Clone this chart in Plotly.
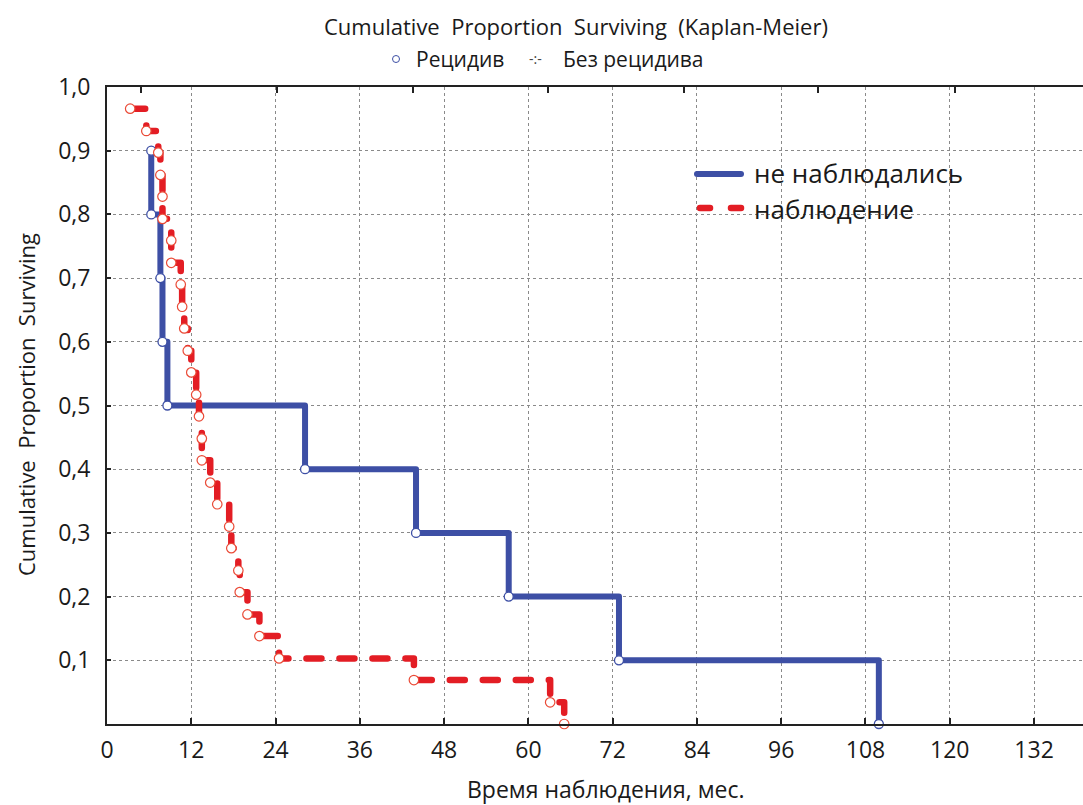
import plotly.graph_objects as go

W, H = 1083, 805
L, R, T, B = 107, 0, 87, 81

# Kaplan-Meier curves: event times (months) and cumulative proportion surviving
no_obs_time = [6.3, 6.3, 7.6, 7.9, 8.6, 28.2, 44.0, 57.2, 72.9, 109.9]
no_obs_surv = [0.9, 0.8, 0.7, 0.6, 0.5, 0.4, 0.3, 0.2, 0.1, 0.0]

obs_time = [3.3, 5.6, 7.3, 7.6, 7.9, 7.9, 9.15, 9.15, 10.5, 10.7, 11.0, 11.5,
            12.0, 12.7, 13.1, 13.5, 13.5, 14.7, 15.7, 17.4, 17.7, 18.7, 18.9,
            20.0, 21.7, 24.5, 43.7, 63.1, 65.1]
obs_surv = [0.966, 0.931, 0.897, 0.862, 0.828, 0.793, 0.759, 0.724, 0.690,
            0.655, 0.621, 0.586, 0.552, 0.517, 0.483, 0.448, 0.414, 0.379,
            0.345, 0.310, 0.276, 0.241, 0.207, 0.172, 0.138, 0.103, 0.069,
            0.034, 0.0]

x_ticks = [0, 12, 24, 36, 48, 60, 72, 84, 96, 108, 120, 132]
y_ticks = [0.1, 0.2, 0.3, 0.4, 0.5, 0.6, 0.7, 0.8, 0.9, 1.0]
y_ticktext = ["0,1", "0,2", "0,3", "0,4", "0,5", "0,6", "0,7", "0,8", "0,9", "1,0"]
top_ticks = [4.9, 24.2, 43.5, 62.8, 82.1, 101.3, 120.7]

series_names = ["не наблюдались", "наблюдение"]

BLUE = "#3d4fa5"
RED = "#e31d24"
RED_EDGE = "#ea4a36"
FONT = "Open Sans"

X_MAX = 138.97

pw, ph = W - L - R, H - T - B


def px(x):
    return (x - L) / pw


def py(y):
    return (H - B - y) / ph


fig = go.Figure()

fig.add_trace(go.Scatter(
    x=no_obs_time, y=no_obs_surv, mode="lines+markers", line_shape="hv",
    line=dict(color=BLUE, width=6),
    marker=dict(symbol="circle", size=9, color="white",
                line=dict(color=BLUE, width=1.3)),
    name=series_names[0], showlegend=False, cliponaxis=False,
))

fig.add_trace(go.Scatter(
    x=obs_time, y=obs_surv, mode="lines+markers", line_shape="hv",
    line=dict(color=RED, width=6.5, dash="15px,18px"),
    marker=dict(symbol="circle", size=9.5, color="white",
                line=dict(color=RED_EDGE, width=1.2)),
    name=series_names[1], showlegend=False, cliponaxis=False,
))

# invisible trace that carries the top axis
fig.add_trace(go.Scatter(x=[0], y=[0], xaxis="x2", mode="markers",
                         marker=dict(opacity=0), showlegend=False,
                         hoverinfo="skip"))

grid = dict(showgrid=True, gridcolor="#8a8a8a", gridwidth=1, griddash="3px,3px")

fig.update_layout(
    width=W, height=H, autosize=False,
    margin=dict(l=L, r=R, t=T, b=B, pad=0),
    paper_bgcolor="white", plot_bgcolor="white",
    font=dict(family=FONT, color="#1a1a1a"),
    xaxis=dict(range=[0, X_MAX], tickvals=x_ticks, ticks="inside", ticklen=6,
               tickwidth=2, tickcolor="#222", showline=True, linecolor="#222",
               linewidth=2, zeroline=False, ticklabelstandoff=4,
               tickfont=dict(size=23, family=FONT), **grid),
    xaxis2=dict(range=[0, X_MAX], overlaying="x", side="top", tickvals=top_ticks,
                ticks="inside", ticklen=6, tickwidth=2, tickcolor="#222",
                showline=True, linecolor="#222", linewidth=2,
                showticklabels=False, showgrid=False, zeroline=False),
    yaxis=dict(range=[0, 1.0], tickvals=y_ticks, ticktext=y_ticktext,
               ticks="inside", ticklen=4, tickwidth=2, tickcolor="#222",
               showline=True, linecolor="#222", linewidth=2, zeroline=False,
               ticklabelstandoff=10,
               tickfont=dict(size=23, family=FONT), **grid),
)

ann = []
NB = "\u00a0"
ann.append(dict(text=f"Cumulative {NB}Proportion {NB}Surviving {NB}(Kaplan-Meier)",
                x=px(576), y=py(26), font=dict(size=22)))
ann.append(dict(text="Рецидив", x=px(414), y=py(59), xanchor="left",
                font=dict(size=21)))
ann.append(dict(text="Без рецидива", x=px(561), y=py(59), xanchor="left",
                font=dict(size=21)))
ann.append(dict(text="-:-", x=px(535), y=py(58), font=dict(size=14, color="#444")))
ann.append(dict(text=f"Cumulative {NB}Proportion {NB}Surviving", x=px(26), y=py(405),
                textangle=-90, font=dict(size=22)))
ann.append(dict(text="Время наблюдения, мес.", x=px(605), y=py(789),
                font=dict(size=23)))
ann.append(dict(text=series_names[0], x=px(752), y=py(173), xanchor="left",
                font=dict(size=26)))
ann.append(dict(text=series_names[1], x=px(752), y=py(209), xanchor="left",
                font=dict(size=26)))
for a in ann:
    a.update(xref="paper", yref="paper", showarrow=False)
    a.setdefault("xanchor", "center")
    a["yanchor"] = "middle"
fig.update_layout(annotations=ann)

shapes = [
    # legend marker for "Рецидив"
    dict(type="circle", xref="paper", yref="paper", x0=px(392.5), x1=px(399.5),
         y0=py(55.5), y1=py(62.5), line=dict(color=BLUE, width=1),
         fillcolor="white"),
    # inner legend samples
    dict(type="line", xref="paper", yref="paper", x0=px(697), x1=px(741),
         y0=py(174), y1=py(174), line=dict(color=BLUE, width=6)),
    dict(type="line", xref="paper", yref="paper", x0=px(700), x1=px(710),
         y0=py(208), y1=py(208), line=dict(color=RED, width=6.5)),
    dict(type="line", xref="paper", yref="paper", x0=px(731), x1=px(741),
         y0=py(208), y1=py(208), line=dict(color=RED, width=6.5)),
]
fig.update_layout(shapes=shapes)

post = """
var gd = document.querySelector('.plotly-graph-div');
function caps(){
  gd.querySelectorAll('.scatterlayer .js-line').forEach(function(p){
    p.style.strokeLinecap = 'round'; p.style.strokeLinejoin = 'round';
  });
  gd.querySelectorAll('.shapelayer path').forEach(function(p){
    if (p.getAttribute('d') && p.getAttribute('d').indexOf('Z') < 0) {
      p.style.strokeLinecap = 'round';
    }
  });
}
caps();
gd.on('plotly_afterplot', caps);
"""

fig.write_html("out.html", post_script=post)
